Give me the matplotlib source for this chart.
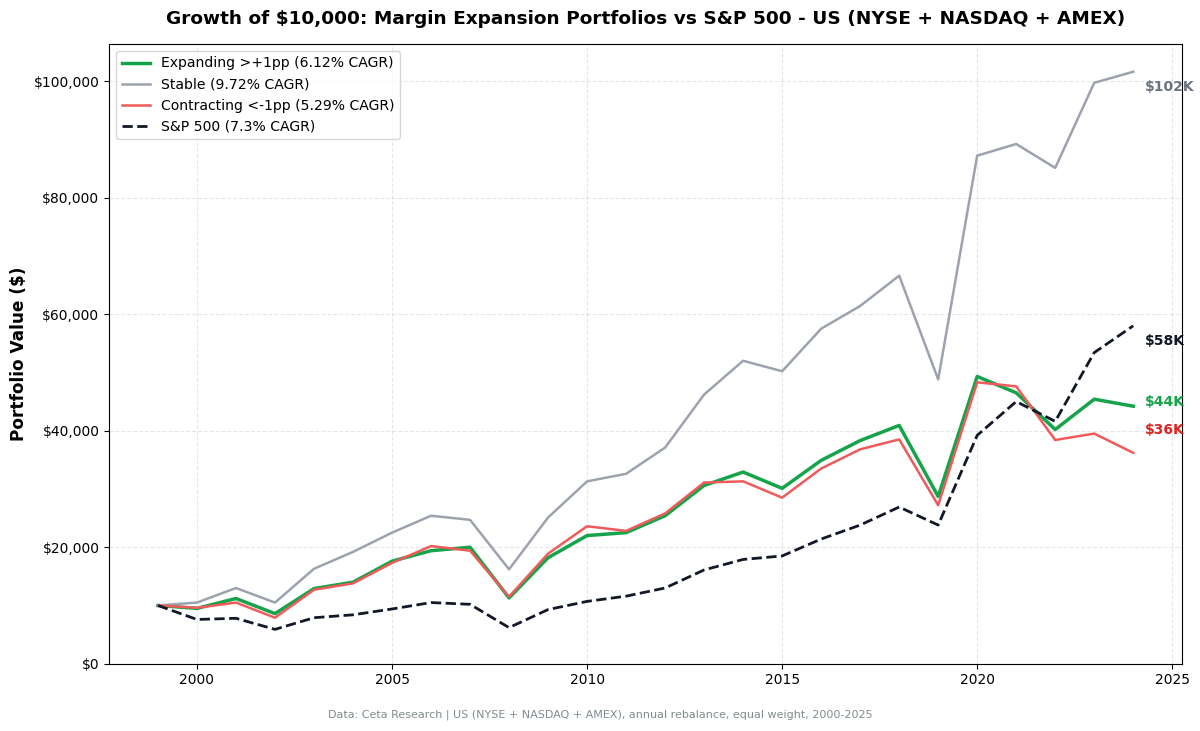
import matplotlib
matplotlib.use("Agg")
import matplotlib.pyplot as plt
from matplotlib.ticker import FuncFormatter

# region Data
years = list(range(1999, 2025))

expanding = [10000, 9500, 11200, 8600, 12900, 14000, 17600, 19400, 20000, 11300,
             18200, 22000, 22500, 25400, 30600, 32900, 30100, 34900, 38300, 40900,
             28700, 49300, 46500, 40200, 45400, 44200]
stable = [10000, 10500, 13000, 10500, 16300, 19200, 22500, 25400, 24700, 16200,
          25100, 31300, 32600, 37100, 46200, 52000, 50200, 57500, 61400, 66600,
          48800, 87200, 89200, 85100, 99700, 101600]
contracting = [10000, 9600, 10500, 7900, 12700, 13800, 17300, 20200, 19400, 11500,
               18900, 23600, 22800, 25800, 31100, 31300, 28500, 33500, 36800, 38500,
               27200, 48300, 47600, 38400, 39500, 36200]
sp500 = [10000, 7600, 7800, 5900, 7900, 8400, 9400, 10500, 10200, 6200,
         9300, 10700, 11600, 13000, 16100, 17900, 18500, 21400, 23800, 26900,
         23800, 39200, 45000, 41600, 53400, 58000]

series_labels = ["Expanding >+1pp (6.12% CAGR)", "Stable (9.72% CAGR)",
                 "Contracting <-1pp (5.29% CAGR)", "S&P 500 (7.3% CAGR)"]
end_labels = ["$44K", "$102K", "$36K", "$58K"]
# endregion

fig, ax = plt.subplots(figsize=(12, 7.31), dpi=100)

ax.plot(years, expanding, color="#16a34a", lw=2.5, label=series_labels[0])
ax.plot(years, stable, color="#9ca3af", lw=1.8, label=series_labels[1])
ax.plot(years, contracting, color="#ef5b5b", lw=1.8, label=series_labels[2])
ax.plot(years, sp500, color="#111827", lw=2, ls="--", label=series_labels[3])

# end-of-line labels, nudged apart like the original
ax.text(2024.3, expanding[-1] + 700, end_labels[0], color="#16a34a",
        fontsize=10, fontweight="bold", va="center")
ax.text(2024.3, stable[-1] - 2700, end_labels[1], color="#6b7280",
        fontsize=10, fontweight="bold", va="center")
ax.text(2024.3, contracting[-1] + 3900, end_labels[2], color="#dc2626",
        fontsize=10, fontweight="bold", va="center")
ax.text(2024.3, sp500[-1] - 2600, end_labels[3], color="#111827",
        fontsize=10, fontweight="bold", va="center")

ax.set_ylim(bottom=0)
ax.yaxis.set_major_formatter(FuncFormatter(lambda v, p: f"${v:,.0f}"))
ax.set_ylabel("Portfolio Value ($)", fontsize=12.2, fontweight="bold")
ax.set_title("Growth of $10,000: Margin Expansion Portfolios vs S&P 500 - US (NYSE + NASDAQ + AMEX)",
             fontsize=13.3, fontweight="bold", pad=14)
ax.tick_params(labelsize=10)
ax.grid(True, ls="--", alpha=0.3)
ax.legend(loc="upper left", fontsize=10.1)

fig.text(0.5, 0.018, "Data: Ceta Research | US (NYSE + NASDAQ + AMEX), annual rebalance, equal weight, 2000-2025",
         ha="center", fontsize=8, color="#7f8c8d")

fig.subplots_adjust(left=0.091, right=0.985, top=0.94, bottom=0.092)
fig.savefig("out.png", dpi=100)
